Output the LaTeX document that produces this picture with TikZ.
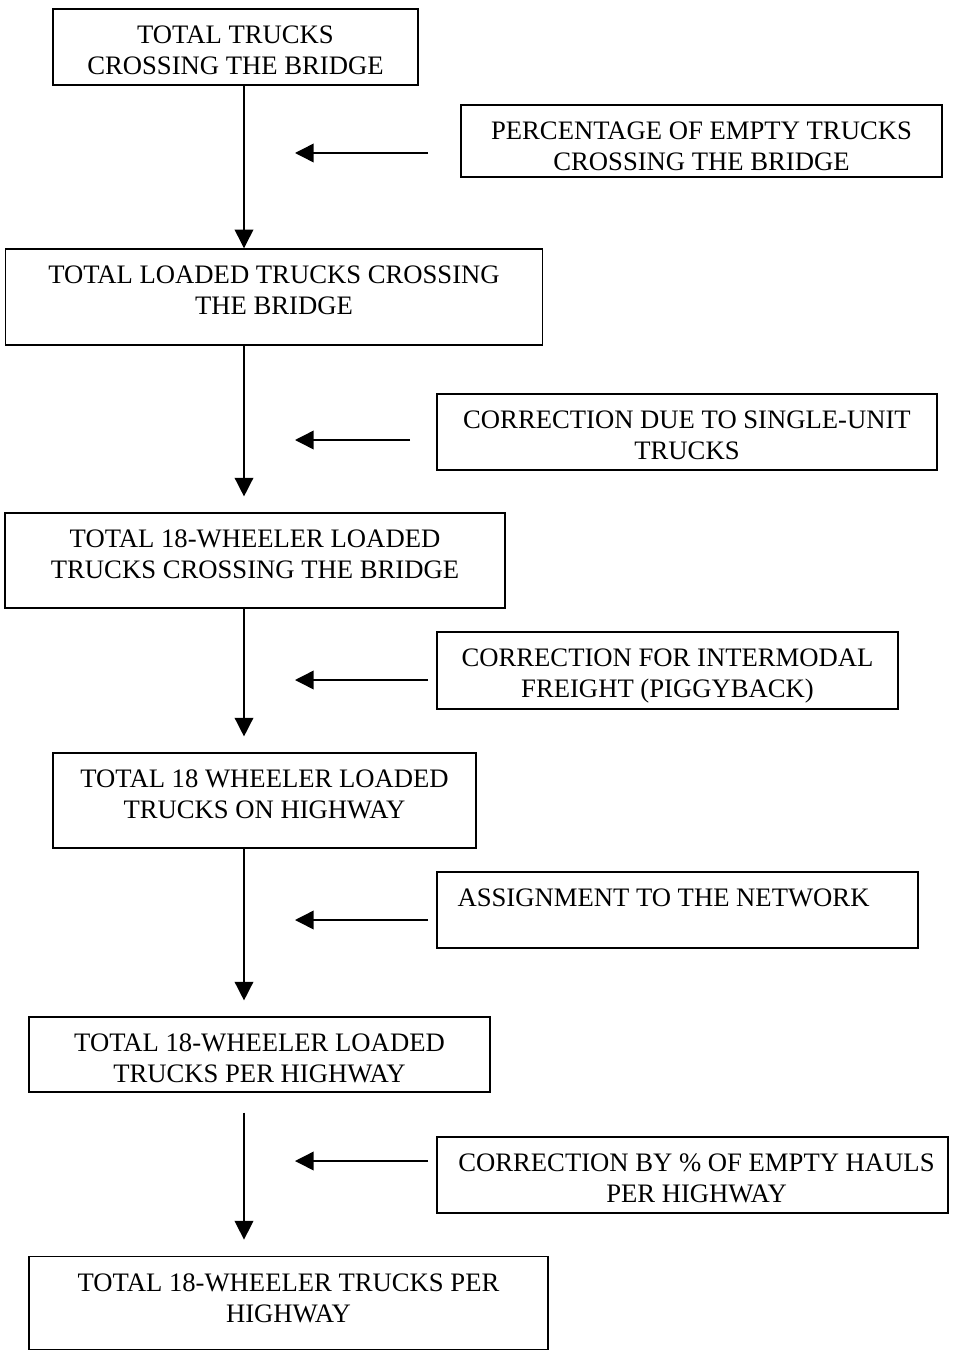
\documentclass[tikz,border=0pt]{standalone}
\usepackage{fontspec}
\setmainfont{Liberation Serif}
\usetikzlibrary{arrows.meta}
% text hangs from the top edge of each box, as in the original
\newcommand{\boxtext}[3]{\parbox[c][#2][t]{#1}{\centering\rule{0pt}{26pt}#3}}
\tikzset{
  stagebox/.style={draw, line width=1.1pt, inner sep=0pt,
    font=\fontsize{20}{23.25}\selectfont},
  factorbox/.style={stagebox},
  arr/.style={-{Triangle[length=14pt, width=14pt]}, line width=1.1pt}
}

\begin{document}
\begin{tikzpicture}[x=0.75pt, y=-0.75pt]
  \useasboundingbox (0,0) rectangle (956,1352);
  % main chain
  \node[stagebox] (total) at (235.5,47)
    {\boxtext{274pt}{57pt}{TOTAL TRUCKS\\CROSSING THE BRIDGE}};
  \node[stagebox] (loaded) at (274,297)
    {\boxtext{403pt}{72pt}{TOTAL LOADED TRUCKS CROSSING\\THE BRIDGE}};
  \node[stagebox] (wheeler) at (255,560.5)
    {\boxtext{375pt}{71pt}{TOTAL 18-WHEELER LOADED\\TRUCKS CROSSING THE BRIDGE}};
  \node[stagebox] (highway) at (264.5,800.5)
    {\boxtext{317pt}{71pt}{TOTAL 18 WHEELER LOADED\\TRUCKS ON HIGHWAY}};
  \node[stagebox] (perhwy) at (259.5,1054.5)
    {\boxtext{346pt}{56pt}{TOTAL 18-WHEELER LOADED\\TRUCKS PER HIGHWAY}};
  \node[stagebox] (final) at (288.5,1303)
    {\boxtext{389pt}{70pt}{TOTAL 18-WHEELER TRUCKS PER\\HIGHWAY}};
  % correction factors
  \node[factorbox] (empty) at (701.5,141)
    {\boxtext{361pt}{54pt}{PERCENTAGE OF EMPTY TRUCKS\\CROSSING THE BRIDGE}};
  \node[factorbox] (single) at (687,432)
    {\boxtext{375pt}{57pt}{CORRECTION DUE TO SINGLE-UNIT\\TRUCKS}};
  \node[factorbox] (piggy) at (667.5,670.5)
    {\boxtext{346pt}{58pt}{CORRECTION FOR INTERMODAL\\FREIGHT (PIGGYBACK)}};
  \node[factorbox] (assign) at (677.5,910)
    {\parbox[c][57pt][t]{361pt}{\rule{0pt}{26pt}\hspace*{15.5pt}ASSIGNMENT TO THE NETWORK}};
  \node[factorbox] (hauls) at (692.5,1175)
    {\boxtext{383pt}{57pt}{\hspace*{6pt}CORRECTION BY \% OF EMPTY HAULS\\\hspace*{6pt}PER HIGHWAY}};

  \coordinate (spine) at (244,0);
  \foreach \y [count=\i] in {153,440,680,920,1161} {
    \coordinate (from\i) at (428,\y);
    \coordinate (to\i) at (295,\y);
  }
  \coordinate (from2) at (410,440);

  \draw[arr] (total.south -| spine) -- (loaded.north -| spine);
  \draw[arr, shorten >=12pt] (loaded.south -| spine) -- (wheeler.north -| spine);
  \draw[arr, shorten >=12pt] (wheeler.south -| spine) -- (highway.north -| spine);
  \draw[arr, shorten >=12pt] (highway.south -| spine) -- (perhwy.north -| spine);
  \draw[arr, shorten <=15pt, shorten >=12pt] (perhwy.south -| spine) -- (final.north -| spine);

  \foreach \i in {1,...,5}
    \draw[arr] (from\i) -- (to\i);
\end{tikzpicture}
\end{document}
